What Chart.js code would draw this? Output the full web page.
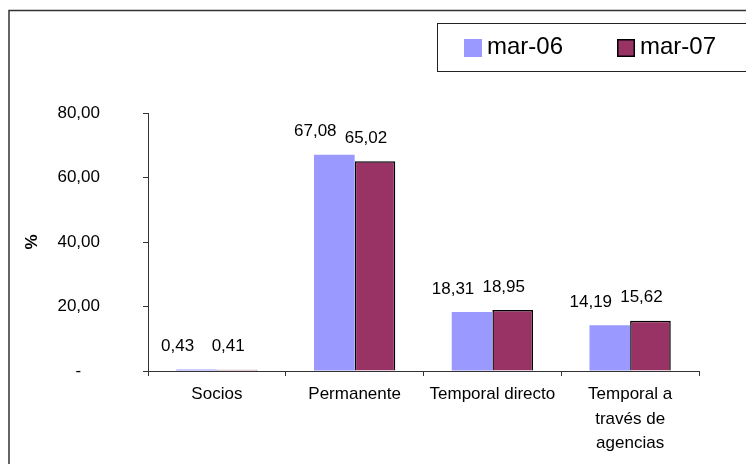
<!DOCTYPE html>
<html>
<head>
<meta charset="utf-8">
<script src="https://cdn.jsdelivr.net/npm/chart.js@4/dist/chart.umd.min.js"></script>
<style>
  html, body { margin: 0; padding: 0; background: #fff; }
  #wrap { width: 746px; height: 464px; }
</style>
</head>
<body>
<div id="wrap"><canvas id="chart"></canvas></div>
<script>
// données
const categories = ["Socios", "Permanente", "Temporal directo", ["Temporal a", "través de", "agencias"]];
const seriesNames = ["mar-06", "mar-07"];
const mar06 = [0.43, 67.08, 18.31, 14.19];
const mar07 = [0.41, 65.02, 18.95, 15.62];
const yTicks = [0, 20, 40, 60, 80];

const fontFam = "'Liberation Sans', Arial, sans-serif";

function fmt(v) {
    if (v === 0) return "-    ";
    return v.toFixed(2).replace(".", ",");
}

// cadre extérieur + légende encadrée
const framePlugin = {
    id: "frame",
    afterDraw(chart) {
        const ctx = chart.ctx;
        ctx.save();
        ctx.strokeStyle = "#333";
        ctx.lineWidth = 1.5;
        ctx.strokeRect(9, 10.5, 800, 600);

        // légende
        ctx.lineWidth = 1;
        ctx.strokeStyle = "#222";
        ctx.strokeRect(437.5, 23.5, 400, 48);
        ctx.font = "24px " + fontFam;
        ctx.textBaseline = "middle";
        ctx.textAlign = "left";
        let x = 464;
        chart.data.datasets.forEach((ds, i) => {
            ctx.fillStyle = ds.backgroundColor;
            ctx.fillRect(x, 39, 18, 18);
            if (ds.borderWidth) {
                ctx.strokeStyle = "#000";
                ctx.lineWidth = 1.5;
                ctx.strokeRect(x + 0.75, 39.75, 16.5, 16.5);
            }
            ctx.fillStyle = "#000";
            ctx.fillText(ds.label, x + 23, 47);
            x += 23 + ctx.measureText(ds.label).width + 54;
        });
        ctx.restore();
    }
};

// étiquettes de valeurs
const labelOffsets = [-19, -9];
const valuePlugin = {
    id: "values",
    afterDatasetsDraw(chart) {
        const ctx = chart.ctx;
        ctx.save();
        ctx.font = "17px " + fontFam;
        ctx.fillStyle = "#000";
        ctx.textAlign = "center";
        ctx.textBaseline = "middle";
        chart.data.datasets.forEach((ds, i) => {
            chart.getDatasetMeta(i).data.forEach((el, j) => {
                ctx.fillText(fmt(ds.data[j]), el.x + labelOffsets[i], el.y - 23);
            });
        });
        ctx.restore();
    }
};

new Chart(document.getElementById("chart"), {
    type: "bar",
    data: {
        labels: categories,
        datasets: [
            { label: seriesNames[0], data: mar06, backgroundColor: "#9999FF", borderWidth: 0 },
            { label: seriesNames[1], data: mar07, backgroundColor: "#993366", borderColor: "#000", borderWidth: 1.5 }
        ]
    },
    options: {
        responsive: true,
        maintainAspectRatio: false,
        animation: false,
        categoryPercentage: 0.59,
        barPercentage: 1,
        layout: { padding: { top: 113, left: 20, right: 47, bottom: 0 } },
        plugins: {
            legend: { display: false },
            tooltip: { enabled: false }
        },
        scales: {
            x: {
                grid: { offset: true, drawOnChartArea: false, drawTicks: true, tickLength: 5, color: "#333" },
                border: { color: "#333", width: 1 },
                ticks: {
                    color: "#000",
                    font: { family: fontFam, size: 17, lineHeight: 1.45 },
                    padding: 6,
                    maxRotation: 0,
                    autoSkip: false
                },
                afterFit(scale) { scale.height = 93; }
            },
            y: {
                min: 0,
                max: 80,
                afterBuildTicks(scale) { scale.ticks = yTicks.map(v => ({ value: v })); },
                grid: { drawOnChartArea: false, drawTicks: true, tickLength: 5, color: "#333" },
                border: { color: "#333", width: 1 },
                ticks: {
                    color: "#000",
                    font: { family: fontFam, size: 17 },
                    padding: 43,
                    callback: v => fmt(v)
                },
                title: {
                    display: true,
                    text: "%",
                    color: "#000",
                    font: { family: fontFam, size: 17, weight: "bold" },
                    padding: { top: 2, bottom: 0 }
                },
                afterFit(scale) { scale.width = 128; }
            }
        }
    },
    plugins: [framePlugin, valuePlugin]
});
</script>
</body>
</html>
